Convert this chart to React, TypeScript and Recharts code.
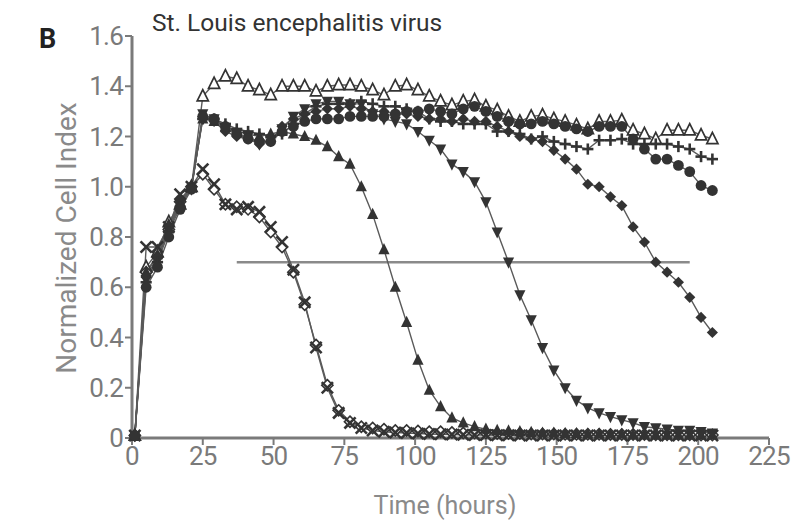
import React from 'react';
import { LineChart, Line, XAxis, YAxis, ReferenceLine } from 'recharts';

// sampling times (hours)
const TIMES = [1, 5, 9, 13, 17, 21, 25, 29, 33, 37, 41, 45, 49, 53, 57, 61, 65, 69, 73, 77, 81, 85, 89, 93, 97, 101, 105, 109, 113, 117, 121, 125, 129, 133, 137, 141, 145, 149, 153, 157, 161, 165, 169, 173, 177, 181, 185, 189, 193, 197, 201, 205];

const X_TICKS = [0, 25, 50, 75, 100, 125, 150, 175, 200, 225];
const Y_TICKS = [0, 0.2, 0.4, 0.6, 0.8, 1.0, 1.2, 1.4, 1.6];

// normalized cell index per well group
const OPEN_TRI = [0.01, 0.68, 0.74, 0.86, 0.93, 1.0, 1.36, 1.41, 1.44, 1.43, 1.4, 1.385, 1.365, 1.4, 1.4, 1.4, 1.38, 1.4, 1.405, 1.405, 1.4, 1.385, 1.365, 1.4, 1.405, 1.385, 1.36, 1.34, 1.325, 1.34, 1.345, 1.32, 1.305, 1.28, 1.26, 1.28, 1.285, 1.27, 1.26, 1.245, 1.23, 1.26, 1.26, 1.265, 1.225, 1.21, 1.19, 1.225, 1.225, 1.225, 1.205, 1.19];
const CIRCLE = [0.01, 0.6, 0.68, 0.8, 0.91, 0.99, 1.28, 1.27, 1.24, 1.21, 1.19, 1.18, 1.18, 1.22, 1.24, 1.26, 1.27, 1.27, 1.27, 1.28, 1.28, 1.28, 1.28, 1.29, 1.3, 1.3, 1.31, 1.3, 1.29, 1.31, 1.32, 1.3, 1.28, 1.26, 1.25, 1.25, 1.26, 1.25, 1.24, 1.23, 1.22, 1.24, 1.24, 1.24, 1.19, 1.15, 1.11, 1.11, 1.085, 1.06, 1.005, 0.985];
const PLUS = [0.01, 0.62, 0.7, 0.82, 0.92, 1.0, 1.27, 1.27, 1.25, 1.23, 1.22, 1.21, 1.2, 1.21, 1.25, 1.29, 1.32, 1.33, 1.33, 1.33, 1.34, 1.33, 1.32, 1.32, 1.31, 1.3, 1.27, 1.26, 1.26, 1.25, 1.25, 1.25, 1.22, 1.22, 1.21, 1.19, 1.2, 1.18, 1.17, 1.16, 1.15, 1.185, 1.185, 1.19, 1.17, 1.17, 1.17, 1.17, 1.16, 1.15, 1.12, 1.11];
const DIAMOND = [0.01, 0.64, 0.72, 0.84, 0.95, 1.0, 1.28, 1.26, 1.22, 1.2, 1.19, 1.17, 1.18, 1.24, 1.27, 1.29, 1.3, 1.31, 1.31, 1.32, 1.31, 1.3, 1.3, 1.29, 1.29, 1.28, 1.27, 1.27, 1.26, 1.27, 1.26, 1.26, 1.24, 1.22, 1.2, 1.19, 1.18, 1.145, 1.11, 1.07, 1.01, 1.0, 0.96, 0.925, 0.84, 0.78, 0.7, 0.66, 0.62, 0.56, 0.48, 0.42];
const TRI_DOWN = [0.01, 0.63, 0.71, 0.83, 0.93, 0.99, 1.29, 1.27, 1.23, 1.21, 1.2, 1.17, 1.19, 1.23, 1.28, 1.31, 1.33, 1.34, 1.34, 1.33, 1.33, 1.29, 1.27, 1.26, 1.25, 1.22, 1.185, 1.15, 1.09, 1.06, 1.02, 0.94, 0.82, 0.7, 0.57, 0.47, 0.36, 0.27, 0.2, 0.15, 0.12, 0.1, 0.085, 0.072, 0.06, 0.045, 0.04, 0.035, 0.03, 0.03, 0.025, 0.02];
const TRI_UP = [0.01, 0.66, 0.73, 0.85, 0.94, 1.0, 1.27, 1.26, 1.24, 1.22, 1.21, 1.2, 1.21, 1.22, 1.21, 1.2, 1.185, 1.16, 1.12, 1.09, 1.0, 0.89, 0.75, 0.6, 0.46, 0.31, 0.19, 0.125, 0.08, 0.06, 0.045, 0.035, 0.03, 0.028, 0.025, 0.022, 0.02, 0.02, 0.018, 0.018, 0.016, 0.016, 0.015, 0.015, 0.014, 0.014, 0.013, 0.013, 0.012, 0.012, 0.012, 0.012];
const CROSS = [0.01, 0.76, 0.76, 0.84, 0.97, 1.0, 1.07, 1.01, 0.93, 0.91, 0.92, 0.9, 0.84, 0.78, 0.67, 0.54, 0.36, 0.2, 0.1, 0.06, 0.04, 0.03, 0.025, 0.022, 0.02, 0.018, 0.016, 0.015, 0.014, 0.013, 0.012, 0.012, 0.011, 0.011, 0.01, 0.01, 0.01, 0.01, 0.01, 0.01, 0.01, 0.01, 0.01, 0.01, 0.01, 0.01, 0.01, 0.01, 0.01, 0.01, 0.01, 0.01];
const OPEN_DIAMOND = [0.01, 0.66, 0.72, 0.83, 0.94, 1.0, 1.05, 0.99, 0.93, 0.92, 0.91, 0.88, 0.82, 0.76, 0.66, 0.53, 0.37, 0.21, 0.11, 0.065, 0.045, 0.04, 0.035, 0.03, 0.03, 0.028, 0.025, 0.025, 0.022, 0.02, 0.02, 0.02, 0.018, 0.018, 0.018, 0.016, 0.016, 0.016, 0.015, 0.015, 0.015, 0.015, 0.014, 0.014, 0.014, 0.014, 0.013, 0.013, 0.013, 0.013, 0.012, 0.012];

const CUTOFF = 0.7;
const CUTOFF_RANGE = [37, 197];

const INK = '#333';
const AXIS = '#7a7a7a';
const FONT = 'Roboto, sans-serif';

const SERIES = [
    { key: 'openTri', values: OPEN_TRI, shape: 'triOpen' },
    { key: 'openDiamond', values: OPEN_DIAMOND, shape: 'diamondOpen' },
    { key: 'cross', values: CROSS, shape: 'cross' },
    { key: 'triUp', values: TRI_UP, shape: 'triUp' },
    { key: 'triDown', values: TRI_DOWN, shape: 'triDown' },
    { key: 'diamond', values: DIAMOND, shape: 'diamond' },
    { key: 'plus', values: PLUS, shape: 'plus' },
    { key: 'circle', values: CIRCLE, shape: 'circle' },
];

const Marker = ({ cx, cy, shape }: any) => {
    if (cx == null || cy == null) return null;
    const s = 5.6;
    switch (shape) {
        case 'triOpen':
            return <polygon points={`${cx},${cy - s - 1} ${cx - s},${cy + s - 1} ${cx + s},${cy + s - 1}`} fill="#fff" stroke={INK} strokeWidth={1.7} />;
        case 'triUp':
            return <polygon points={`${cx},${cy - s - 1} ${cx - s},${cy + s - 1} ${cx + s},${cy + s - 1}`} fill={INK} />;
        case 'triDown':
            return <polygon points={`${cx},${cy + s + 1} ${cx - s},${cy - s + 1} ${cx + s},${cy - s + 1}`} fill={INK} />;
        case 'circle':
            return <circle cx={cx} cy={cy} r={5.4} fill={INK} />;
        case 'diamond':
            return <polygon points={`${cx},${cy - s} ${cx + s},${cy} ${cx},${cy + s} ${cx - s},${cy}`} fill={INK} />;
        case 'diamondOpen':
            return <polygon points={`${cx},${cy - s} ${cx + s},${cy} ${cx},${cy + s} ${cx - s},${cy}`} fill="#fff" stroke={INK} strokeWidth={1.6} />;
        case 'plus':
            return (
                <g stroke={INK} strokeWidth={2.6}>
                    <line x1={cx - s} y1={cy} x2={cx + s} y2={cy} />
                    <line x1={cx} y1={cy - s} x2={cx} y2={cy + s} />
                </g>
            );
        case 'cross':
            return (
                <g stroke={INK} strokeWidth={2.6}>
                    <line x1={cx - s} y1={cy - s} x2={cx + s} y2={cy + s} />
                    <line x1={cx - s} y1={cy + s} x2={cx + s} y2={cy - s} />
                </g>
            );
        default:
            return null;
    }
};

const chartData = TIMES.map((t, i) => {
    const row: any = { t };
    SERIES.forEach(s => { row[s.key] = s.values[i]; });
    return row;
});

const tickStyle = { fill: AXIS, fontSize: 26, fontFamily: FONT, letterSpacing: -0.8 };

export default function App() {
    return (
        <div style={{ position: 'absolute', left: 0, top: 0, width: 795, height: 522, background: '#fff', fontFamily: FONT }}>
            <LineChart width={795} height={522} data={chartData} margin={{ top: 36, right: 26, left: 72, bottom: 44 }}>
                <XAxis
                    type="number"
                    dataKey="t"
                    domain={[0, 225]}
                    ticks={X_TICKS}
                    height={40}
                    tick={tickStyle}
                    tickSize={7}
                    stroke={AXIS}
                    axisLine={{ stroke: AXIS, strokeWidth: 3 }}
                    tickLine={{ stroke: AXIS, strokeWidth: 2 }}
                />
                <YAxis
                    type="number"
                    domain={[0, 1.6]}
                    ticks={Y_TICKS}
                    width={60}
                    tick={tickStyle}
                    tickSize={7}
                    tickFormatter={(v: number) => (v === 0 ? '0' : v.toFixed(1))}
                    axisLine={{ stroke: AXIS, strokeWidth: 3 }}
                    tickLine={{ stroke: AXIS, strokeWidth: 2 }}
                />
                <ReferenceLine
                    segment={[{ x: CUTOFF_RANGE[0], y: CUTOFF }, { x: CUTOFF_RANGE[1], y: CUTOFF }]}
                    stroke="#8a8a8a"
                    strokeWidth={2.5}
                />
                {SERIES.map(s => (
                    <Line
                        key={s.key}
                        type="linear"
                        dataKey={s.key}
                        stroke="#5a5a5a"
                        strokeWidth={1.4}
                        isAnimationActive={false}
                        dot={(p: any) => <Marker key={`${s.key}-${p.index}`} cx={p.cx} cy={p.cy} shape={s.shape} />}
                        activeDot={false}
                    />
                ))}
            </LineChart>
            <div style={{ position: 'absolute', left: 39, top: 23, fontSize: 27, fontWeight: 700, color: '#222' }}>B</div>
            <div style={{ position: 'absolute', left: 152, top: 8, fontSize: 24.5, color: '#333' }}>St. Louis encephalitis virus</div>
            <div style={{ position: 'absolute', left: 66, top: 238, transform: 'translate(-50%, -50%) rotate(-90deg)', whiteSpace: 'nowrap', fontSize: 28, color: '#8a8a8a' }}>
                Normalized Cell Index
            </div>
            <div style={{ position: 'absolute', left: 445, top: 505, transform: 'translate(-50%, -50%)', whiteSpace: 'nowrap', fontSize: 25, color: '#8a8a8a' }}>
                Time (hours)
            </div>
        </div>
    );
}
